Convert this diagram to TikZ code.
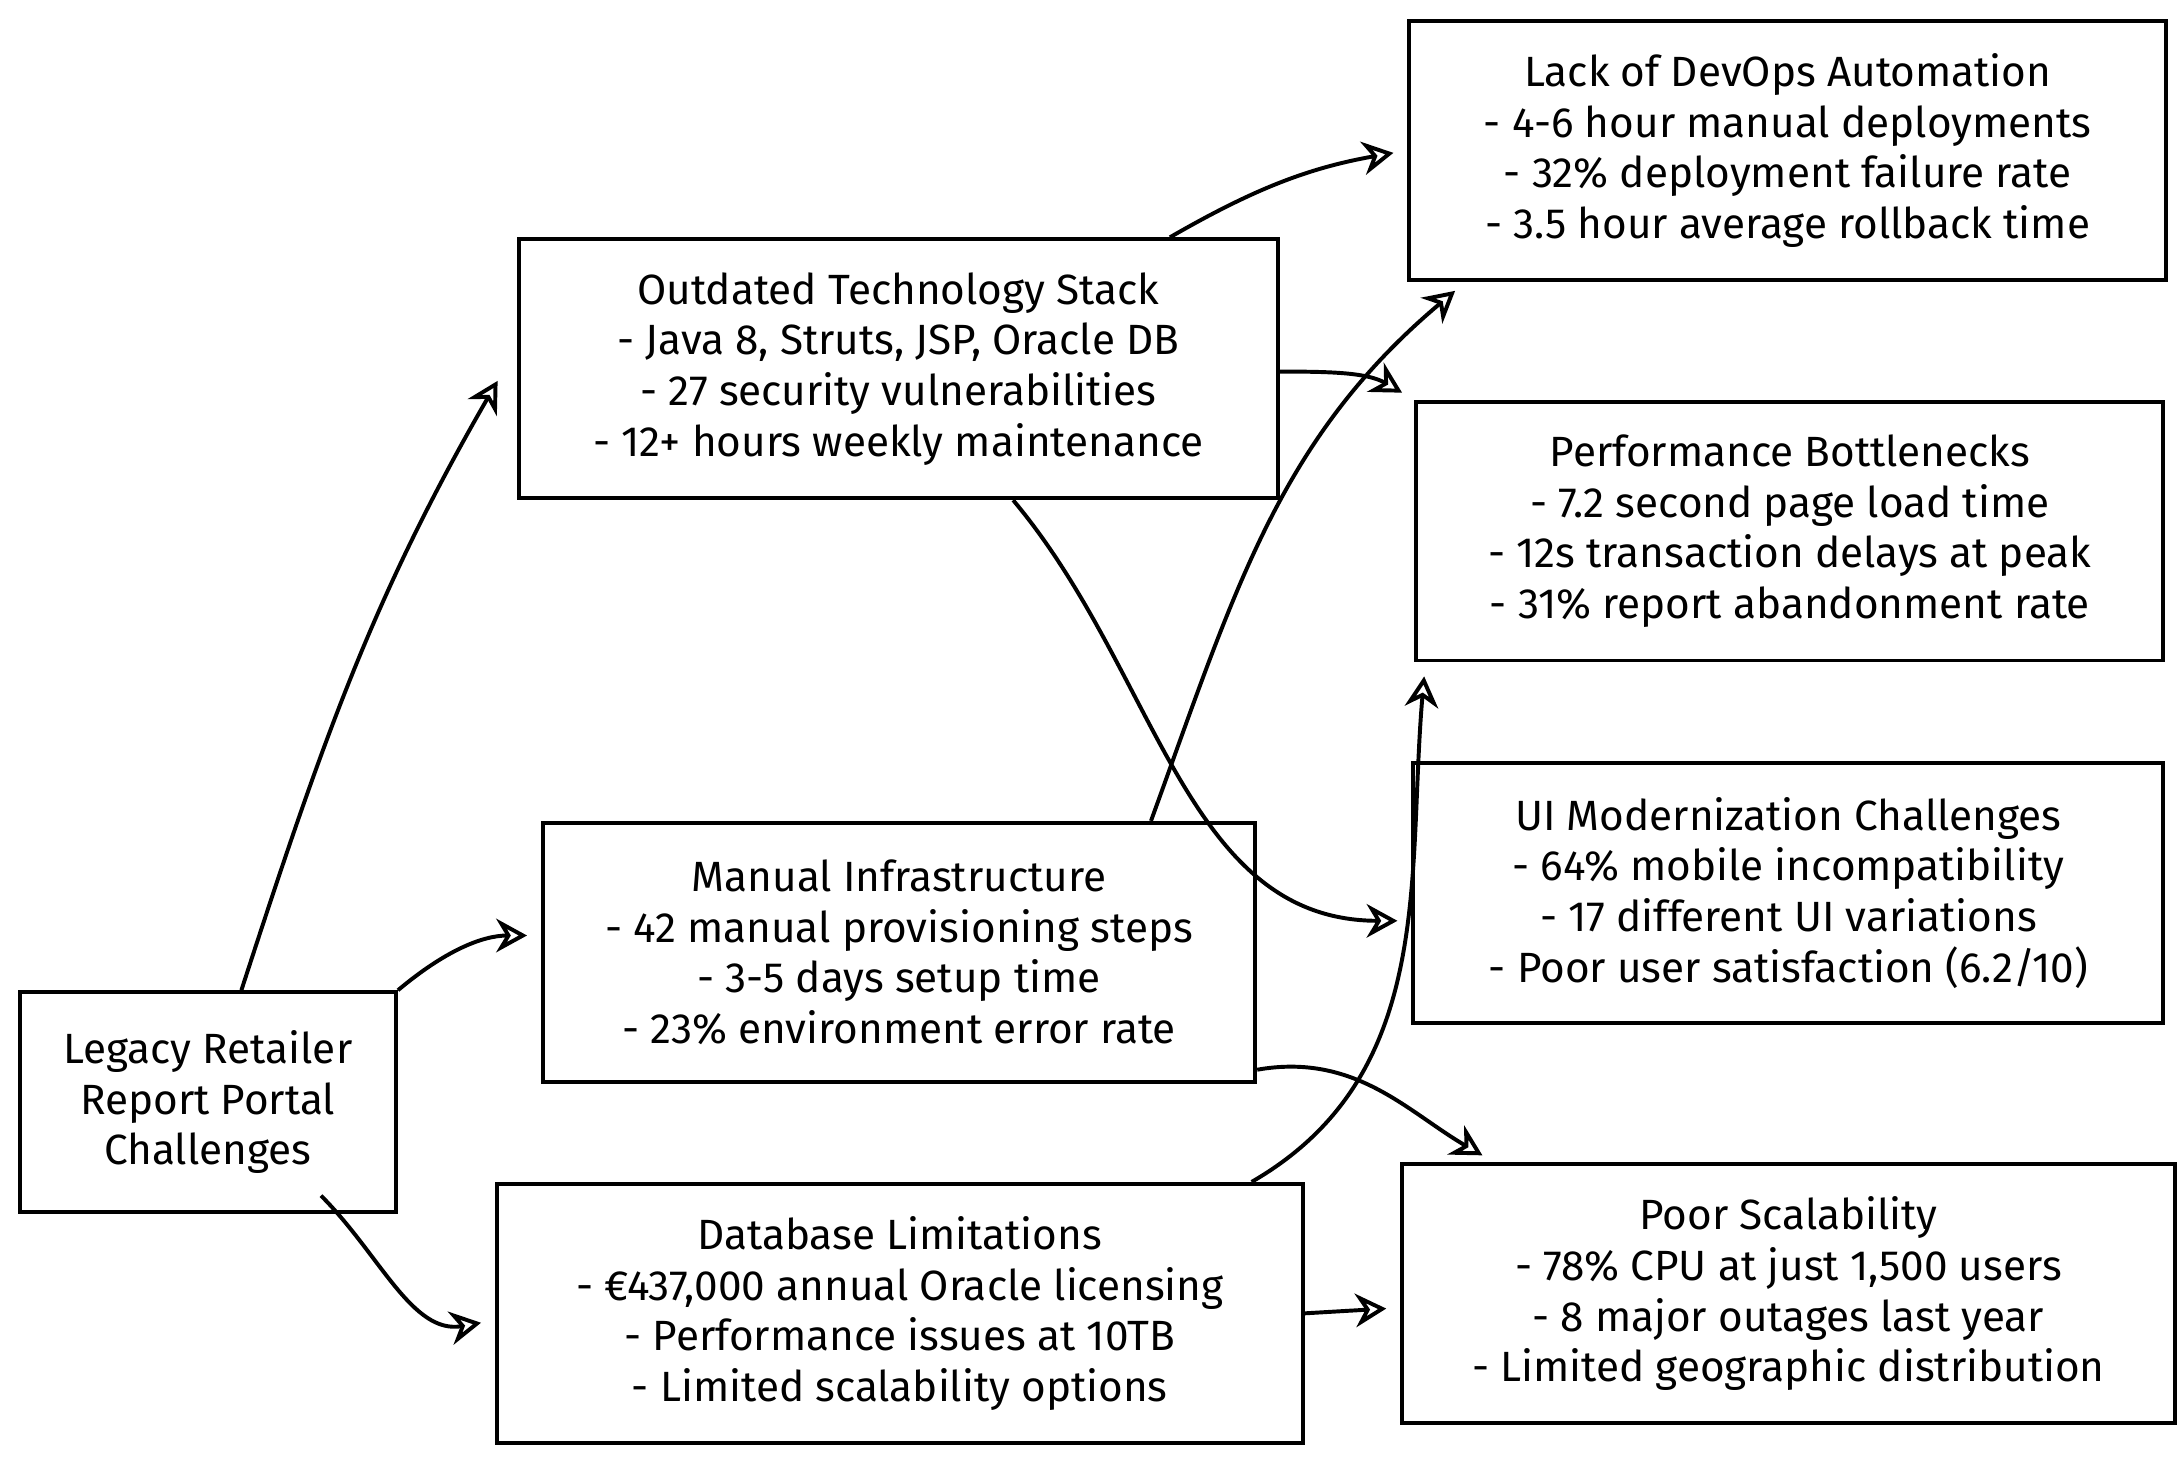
\documentclass[tikz,border=0pt]{standalone}
\usepackage{fontspec}
\setmainfont{Fira Sans}
\usetikzlibrary{arrows.meta}
\tikzset{
  box/.style={draw, thick, align=center, font=\fontsize{8.6}{10.3}\selectfont, inner sep=0pt},
  arr/.style={thick, -{Stealth[open,length=2.2mm,width=2.4mm]}, shorten >=1mm}
}
\begin{document}
\begin{tikzpicture}
            \useasboundingbox (0,0) rectangle (15.6,-10.41);
            % boxes
            \node[box, minimum width=2.69cm, minimum height=1.57cm] (lg) at (1.485,-7.875) {Legacy Retailer\\Report Portal\\Challenges};
            \node[box, minimum width=5.42cm, minimum height=1.85cm] (ot) at (6.42,-2.635) {Outdated Technology Stack\\- Java 8, Struts, JSP, Oracle DB\\- 27 security vulnerabilities\\- 12+ hours weekly maintenance};
            \node[box, minimum width=5.09cm, minimum height=1.85cm] (mi) at (6.425,-6.805) {Manual Infrastructure\\- 42 manual provisioning steps\\- 3-5 days setup time\\- 23\% environment error rate};
            \node[box, minimum width=5.76cm, minimum height=1.85cm] (db) at (6.43,-9.385) {Database Limitations\\- €437,000 annual Oracle licensing\\- Performance issues at 10TB\\- Limited scalability options};
            \node[box, minimum width=5.41cm, minimum height=1.85cm] (do) at (12.775,-1.075) {Lack of DevOps Automation\\- 4-6 hour manual deployments\\- 32\% deployment failure rate\\- 3.5 hour average rollback time};
            \node[box, minimum width=5.34cm, minimum height=1.85cm] (pb) at (12.79,-3.795) {Performance Bottlenecks\\- 7.2 second page load time\\- 12s transaction delays at peak\\- 31\% report abandonment rate};
            \node[box, minimum width=5.36cm, minimum height=1.86cm] (ui) at (12.78,-6.38) {UI Modernization Challenges\\- 64\% mobile incompatibility\\- 17 different UI variations\\- Poor user satisfaction (6.2/10)};
            \node[box, minimum width=5.52cm, minimum height=1.85cm] (ps) at (12.78,-9.245) {Poor Scalability\\- 78\% CPU at just 1,500 users\\- 8 major outages last year\\- Limited geographic distribution};
            % arrows from the portal
            \draw[arr] ([xshift=2.4mm]lg.north) to[out=72,in=-120] ([xshift=-0.9mm]ot.west);
            \draw[arr] (lg.north east) to[out=40,in=180] ([yshift=1.2mm]mi.west);
            \draw[arr] ([xshift=-5.5mm,yshift=1.3mm]lg.south east) to[out=-45,in=190] ([yshift=-0.5mm]db.west);
            % arrows to the problems
            \draw[arr] ([xshift=1.94cm]ot.north) to[out=30,in=190] (do.west);
            \draw[arr] ([yshift=-0.02cm]ot.east) to[out=0,in=150] (pb.north west);
            \draw[arr] ([xshift=0.82cm]ot.south) to[out=-50,in=180] ([yshift=-0.2cm]ui.west);
            \draw[arr] ([xshift=1.8cm]mi.north) to[out=70,in=-140] ([xshift=-2.3cm]do.south);
            \draw[arr] ([yshift=0.1cm]mi.south east) to[out=10,in=150] ([xshift=-2.1cm]ps.north);
            \draw[arr] ([xshift=-0.38cm]db.north east) to[out=30,in=-95] ([xshift=0.08cm]pb.south west);
            \draw[arr] (db.east) -- ([yshift=-0.1cm]ps.west);
\end{tikzpicture}
\end{document}
